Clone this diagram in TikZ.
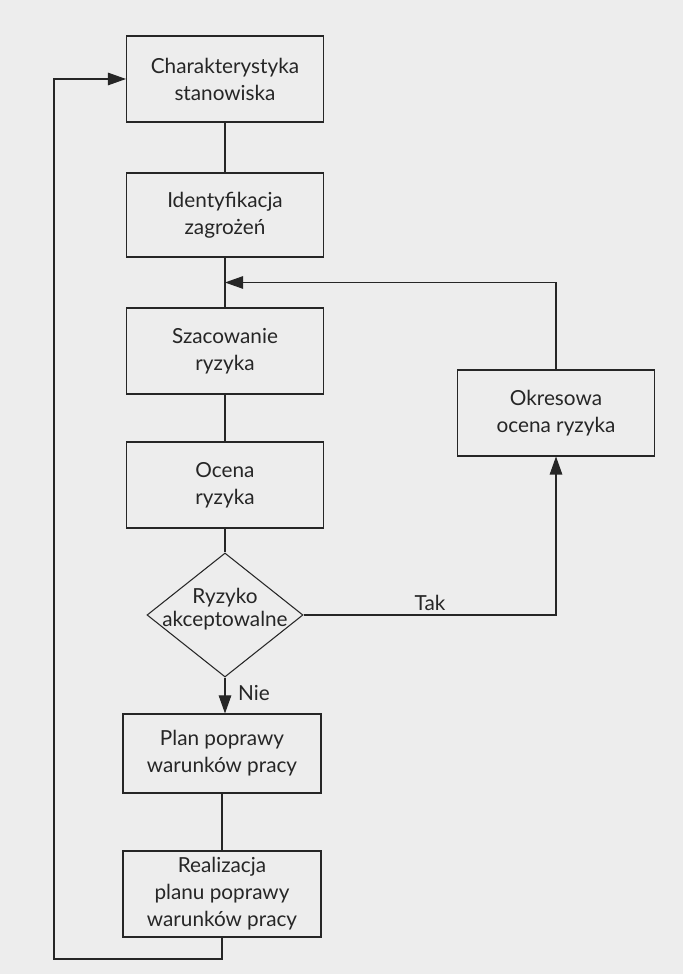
\documentclass[tikz,border=0pt]{standalone}
\usepackage{fontspec}
\setmainfont{Lato}
\usepackage{xcolor}
\usepackage{tikz}
\usetikzlibrary{arrows.meta, positioning, calc, shapes.geometric}
\definecolor{pageg}{HTML}{EDEDED}
\definecolor{inkg}{HTML}{262626}

\begin{document}
\begin{tikzpicture}[x=1cm, y=1cm,
  stepbox/.style={draw=inkg, line width=0.6pt, minimum width=3.94cm, minimum height=1.72cm,
    align=center, inner sep=0pt, font=\fontsize{11.8}{15.4}\selectfont, text=inkg},
  decide/.style={draw=inkg, line width=0.6pt, diamond, minimum width=3.12cm,
    minimum height=2.48cm, inner sep=0pt},
  link/.style={draw=inkg, line width=0.6pt},
  flow/.style={link, -{Triangle[length=0.36cm, width=0.25cm]}},
  lbl/.style={font=\fontsize{11.8}{13.4}\selectfont, text=inkg, align=center}]
\fill[pageg] (0,0) rectangle (13.66,19.48);
\useasboundingbox (0,0) rectangle (13.66,19.48);

\node[stepbox] (charak) at (4.50,17.90) {Charakterystyka\\stanowiska};
\node[stepbox, minimum height=1.68cm] (identyf) at (4.50,15.18) {Identyfikacja\\zagrożeń};
\node[stepbox] (szacow) at (4.50,12.46) {Szacowanie\\ryzyka};
\node[stepbox] (ocena) at (4.50,9.78) {Ocena\\ryzyka};
\node[decide, label={[lbl, yshift=0.12cm]center:Ryzyko\\akceptowalne}] (akcept) at (4.50,7.18) {};
\node[stepbox, minimum width=3.96cm, minimum height=1.58cm] (plan) at (4.44,4.41) {Plan poprawy\\warunków pracy};
\node[stepbox, minimum width=3.96cm] (realiz) at (4.44,1.60) {Realizacja\\planu poprawy\\warunków pracy};
\node[stepbox] (okres) at (11.12,11.22) {Okresowa\\ocena ryzyka};

\coordinate (wejscie) at ($(identyf.south)!0.5!(szacow.north)$);
\coordinate (dolL) at (1.08,0.30);

\draw[link] (charak) -- (identyf);
\draw[link] (identyf) -- (szacow);
\draw[link] (szacow) -- (ocena);
\draw[link] (ocena) -- (akcept);
\draw[flow] (akcept.south) -- (akcept.south |- plan.north);
\node[lbl, anchor=west] (nie) at (4.64,5.62) {Nie};
\draw[link] (plan.south -| realiz.north) -- (realiz.north);
\draw[flow] (realiz.south) |- (dolL) |- (charak.west);
\draw[flow] (akcept.east) -| (okres.south);
\node[lbl] (tak) at (8.60,7.42) {Tak};
\draw[flow] (okres.north) |- (wejscie);
\end{tikzpicture}
\end{document}
